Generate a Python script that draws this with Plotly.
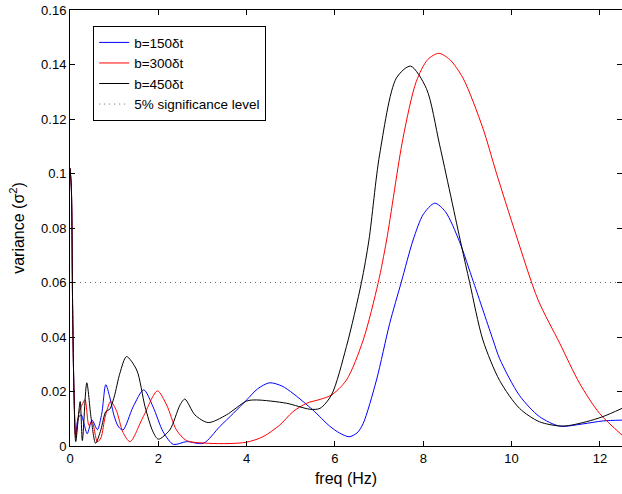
import plotly.graph_objects as go

# spectra, one freq/variance pair per window width
freq_150 = [0, 0.03, 0.06, 0.09, 0.13, 0.18, 0.25, 0.32, 0.39, 0.5, 0.62, 0.72, 0.81, 0.9, 1.0, 1.1, 1.2,
            1.43, 1.67, 1.88, 2.11, 2.34, 2.64, 3.02, 3.39, 3.7, 4.0, 4.25, 4.52, 4.8, 5.05, 5.5, 5.88, 6.1,
            6.32, 6.5, 6.64, 6.94, 7.24, 7.5, 7.77, 8.0, 8.26, 8.5, 8.82, 9.14, 9.58, 9.73, 10.18, 10.63,
            11.09, 11.61, 12.07, 12.5]
var_150 = [0.102, 0.095, 0.05, 0.02, 0.004, 0.010, 0.0115, 0.008, 0.0045, 0.0095, 0.006, 0.012, 0.0225,
           0.018, 0.011, 0.007, 0.0059, 0.0144, 0.0206, 0.0144, 0.0052, 0.0006, 0.0016, 0.001, 0.0071,
           0.012, 0.0169, 0.021, 0.0232, 0.022, 0.0193, 0.0132, 0.0073, 0.0048, 0.0034, 0.0048, 0.0083,
           0.0242, 0.045, 0.06, 0.0756, 0.085, 0.0891, 0.086, 0.075, 0.06, 0.0389, 0.032, 0.0185, 0.0108,
           0.0073, 0.0081, 0.0092, 0.0095]

freq_300 = [0, 0.03, 0.06, 0.09, 0.13, 0.2, 0.27, 0.34, 0.43, 0.5, 0.62, 0.7, 0.8, 0.92, 1.05, 1.2, 1.36,
            1.66, 1.98, 2.19, 2.41, 2.64, 3.13, 3.6, 4.0, 4.37, 4.75, 5.05, 5.36, 5.66, 5.92, 6.26, 6.64,
            6.98, 7.17, 7.54, 7.84, 8.1, 8.35, 8.6, 8.9, 9.35, 9.65, 10.1, 10.6, 11.09, 11.54, 11.99, 12.5]
var_300 = [0.102, 0.095, 0.05, 0.02, 0.003, 0.012, 0.015, 0.017, 0.0075, 0.009, 0.0015, 0.003, 0.011,
           0.0163, 0.013, 0.005, 0.0016, 0.0108, 0.0202, 0.015, 0.0059, 0.002, 0.001, 0.0009, 0.0014,
           0.0034, 0.0077, 0.0126, 0.0157, 0.0171, 0.0187, 0.0242, 0.0389, 0.06, 0.0756, 0.1129, 0.1337,
           0.1418, 0.1441, 0.1418, 0.135, 0.1166, 0.1005, 0.0775, 0.0536, 0.0377, 0.023, 0.012, 0.004]

freq_450 = [0, 0.03, 0.06, 0.09, 0.13, 0.23, 0.28, 0.38, 0.48, 0.58, 0.7, 0.81, 0.9, 1.0, 1.13, 1.28, 1.51,
            1.7, 1.88, 2.0, 2.26, 2.49, 2.6, 2.83, 3.13, 3.54, 4.0, 4.22, 4.9, 5.43, 5.66, 5.92, 6.26, 6.6,
            6.77, 7.01, 7.39, 7.71, 8.07, 8.37, 8.86, 9.05, 9.35, 9.73, 10.18, 10.63, 11.16, 11.69, 12.07, 12.5]
var_450 = [0.102, 0.095, 0.05, 0.02, 0.0016, 0.0163, 0.002, 0.0232, 0.01, 0.001, 0.006, 0.0126, 0.0135,
           0.018, 0.0267, 0.0328, 0.0279, 0.0144, 0.0052, 0.0025, 0.0059, 0.015, 0.0172, 0.0114, 0.0086,
           0.0114, 0.0165, 0.0169, 0.0157, 0.0135, 0.0138, 0.0187, 0.0365, 0.06, 0.0756, 0.1068, 0.135,
           0.1394, 0.1312, 0.1105, 0.0738, 0.06, 0.0389, 0.024, 0.0138, 0.0089, 0.0073, 0.0089, 0.0108, 0.0138]

sig_freq = [0, 12.5]
sig_level = [0.06, 0.06]

x_ticks = [0, 2, 4, 6, 8, 10, 12]
y_ticks = [0, 0.02, 0.04, 0.06, 0.08, 0.1, 0.12, 0.14, 0.16]
y_labels = ["0", "0.02", "0.04", "0.06", "0.08", "0.1", "0.12", "0.14", "0.16"]

series = [
    ("b=150δt", freq_150, var_150, "blue"),
    ("b=300δt", freq_300, var_300, "red"),
    ("b=450δt", freq_450, var_450, "black"),
]

fig = go.Figure()
for name, f, v, col in series:
    fig.add_trace(go.Scatter(x=f, y=v, mode="lines", name=name,
                             line=dict(color=col, width=1, shape="spline", smoothing=0.8)))

fig.add_trace(go.Scatter(x=sig_freq, y=sig_level, mode="lines", name="5% significance level",
                         line=dict(color="#666666", width=1, dash="1px,4px")))

axis_style = dict(showline=True, linecolor="black", linewidth=1, mirror="ticks", ticks="inside",
                  ticklen=5, tickcolor="black", showgrid=False, zeroline=False, automargin=False)

fig.update_layout(
    width=622, height=494,
    margin=dict(l=70, r=0, t=10, b=48),
    plot_bgcolor="white", paper_bgcolor="white",
    font=dict(family="Liberation Sans, Arial, sans-serif", size=13, color="black"),
    xaxis=dict(range=[0, 12.5], tickvals=x_ticks, title=dict(text="freq (Hz)", standoff=8), **axis_style),
    yaxis=dict(range=[0, 0.16], tickvals=y_ticks, ticktext=y_labels,
               title=dict(text="variance (σ<sup>2</sup>)", standoff=12), **axis_style),
    legend=dict(x=0.042, y=0.963, xanchor="left", yanchor="top", bgcolor="white",
                bordercolor="black", borderwidth=1, font=dict(size=13.5), itemwidth=30,
                tracegroupgap=0),
    showlegend=True,
)

# drop the default 8px body margin so the figure sits at the page corner
fig.write_html("out.html", config={"displayModeBar": False},
               post_script="document.body.style.margin = '0';")
